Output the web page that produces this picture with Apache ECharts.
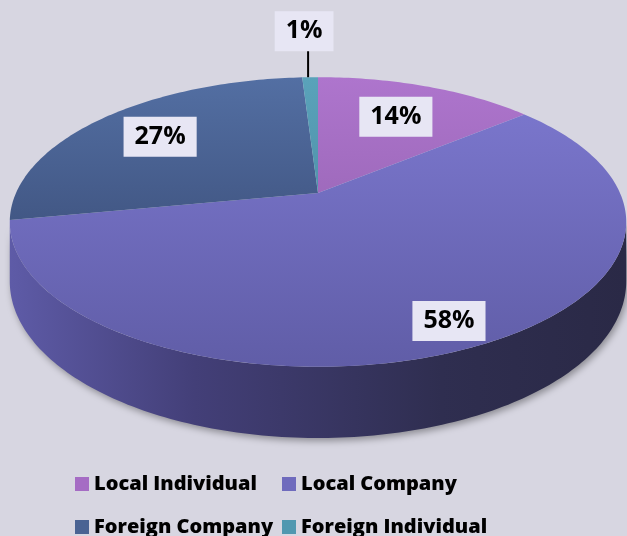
<!DOCTYPE html>
<html>
<head>
<meta charset="UTF-8">
<script src="https://cdn.jsdelivr.net/npm/echarts@6/dist/echarts.min.js"></script>
<style>
  html, body { margin: 0; padding: 0; background: #d7d6e1; }
  #chart { width: 627px; height: 536px; }
</style>
</head>
<body>
<div id="chart"></div>
<script>
// data
const categories = ['Local Individual', 'Local Company', 'Foreign Company', 'Foreign Individual'];
const shares = [14, 58, 27, 1];

// look
const colors = ['#a56cc4', '#6f6bbd', '#4a6393', '#5098b0'];
const topGrad = [
  ['#ae75cd', '#9a67b7', 77, 230],
  ['#7a76cc', '#605da7', 110, 367],
  ['#536fa3', '#415683', 77, 230],
  ['#5aa3ba', '#4e8ea7', 77, 230]
];
const labelRadius = [0.68, 0.86, 0.72, null]; // null -> outside with a leader line

// projection of the tilted disc (a bit of perspective like the original)
const CX = 318, CY = 193, SX = 302, SY = 139, PERSP = 0.2, DEPTH = 57;
const total = shares.reduce((a, b) => a + b, 0);
const starts = [];
let acc = 0;
shares.forEach(v => { starts.push(acc / total * Math.PI * 2); acc += v; });

function proj(th, k, h) {
  const c = Math.cos(th), s = Math.sin(th);
  const d = 1 + PERSP * k * c;
  return [CX + SX * k * s / d, CY - SY * k * c / d + h * DEPTH / d];
}
function arc(a, b, k, h) {
  const pts = [];
  const n = Math.max(2, Math.ceil((b - a) / (Math.PI / 180)));
  for (let i = 0; i <= n; i++) pts.push(proj(a + (b - a) * i / n, k, h));
  return pts;
}

// front facing part of the side wall
const FRONT_A = Math.acos(-PERSP), FRONT_B = Math.PI * 2 - Math.acos(-PERSP);

function renderItem(params, api) {
  const i = params.dataIndex;
  const a = starts[i];
  const b = a + api.value(0) / total * Math.PI * 2;
  const children = [];

  const wa = Math.max(a, FRONT_A), wb = Math.min(b, FRONT_B);
  if (wb > wa) {
    const topEdge = arc(wa, wb, 1, 0);
    const botEdge = arc(wa, wb, 1, 1).reverse();
    children.push({
      type: 'polygon',
      shape: { points: topEdge.concat(botEdge) },
      style: {
        fill: new echarts.graphic.LinearGradient(10, 0, 626, 0, [
          { offset: 0, color: '#5e5ba7' },
          { offset: 0.3, color: '#433f78' },
          { offset: 0.7, color: '#2f2e50' },
          { offset: 1, color: '#2a2946' }
        ], true),
        shadowBlur: 7,
        shadowColor: 'rgba(0,0,0,0.35)',
        shadowOffsetX: 2,
        shadowOffsetY: 3
      }
    });
  }

  const g = topGrad[i];
  children.push({
    type: 'polygon',
    shape: { points: [proj(0, 0, 0)].concat(arc(a, b, 1, 0)) },
    style: {
      fill: new echarts.graphic.LinearGradient(0, g[2], 0, g[3], [
        { offset: 0, color: g[0] },
        { offset: 1, color: g[1] }
      ], true)
    }
  });
  return { type: 'group', children: children };
}

function renderLabel(params, api) {
  const i = params.dataIndex;
  const a = starts[i];
  const mid = a + api.value(0) / total * Math.PI;
  const txtStyle = {
    text: api.value(0) + '%',
    fill: '#000',
    fontFamily: 'Open Sans',
    fontWeight: 'bold',
    fontSize: 25,
    align: 'center',
    verticalAlign: 'middle',
    backgroundColor: '#e7e6f4',
    padding: [8, 11, 7, 11]
  };
  if (labelRadius[i] == null) {
    const p = proj(mid, 1, 0);
    return {
      type: 'group',
      children: [
        { type: 'line', shape: { x1: p[0] - 2, y1: p[1], x2: p[0] - 2, y2: p[1] - 27 },
          style: { stroke: '#000', lineWidth: 2 } },
        { type: 'text', x: p[0] - 6, y: p[1] - 46, style: txtStyle }
      ]
    };
  }
  const p = proj(mid, labelRadius[i], 0);
  return { type: 'text', x: p[0], y: p[1], style: txtStyle };
}

const items = shares.map((v, i) => ({ name: categories[i], value: v }));

// legend laid out in two rows and two columns
const legendSpots = [[75, 474], [282, 474], [75, 517], [282, 517]];
const legends = categories.map((name, i) => ({
  data: [name],
  left: legendSpots[i][0],
  top: legendSpots[i][1],
  padding: 0,
  icon: 'rect',
  itemWidth: 14,
  itemHeight: 14,
  selectedMode: false,
  textStyle: { fontFamily: 'Open Sans', fontWeight: 800, fontSize: 20, color: '#000' }
}));

const chart = echarts.init(document.getElementById('chart'));
chart.setOption({
  backgroundColor: '#d7d6e1',
  animation: false,
  color: colors,
  legend: legends,
  series: [
    {
      // only feeds the legend
      type: 'pie',
      radius: 0,
      silent: true,
      label: { show: false },
      labelLine: { show: false },
      data: items
    },
    {
      type: 'custom',
      coordinateSystem: 'none',
      renderItem: renderItem,
      silent: true,
      data: items
    },
    {
      type: 'custom',
      coordinateSystem: 'none',
      renderItem: renderLabel,
      silent: true,
      z: 5,
      data: items
    }
  ]
});
</script>
</body>
</html>
